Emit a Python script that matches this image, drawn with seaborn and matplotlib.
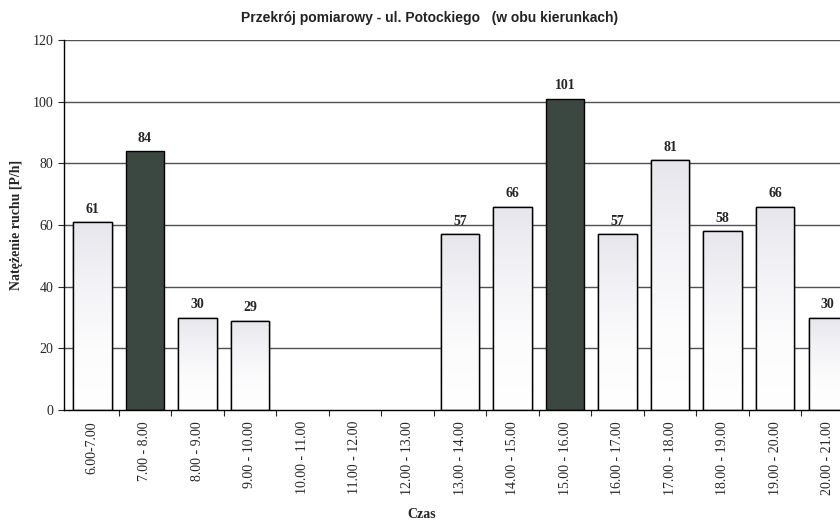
import numpy as np
import pandas as pd
import matplotlib
matplotlib.use("Agg")
import matplotlib.pyplot as plt
import seaborn as sns

# Hourly traffic counts, ul. Potockiego (both directions)
HOURS = [
    "6.00-7.00", "7.00 - 8.00", "8.00 - 9.00", "9.00 - 10.00", "10.00 - 11.00",
    "11.00 - 12.00", "12.00 - 13.00", "13.00 - 14.00", "14.00 - 15.00",
    "15.00 - 16.00", "16.00 - 17.00", "17.00 - 18.00", "18.00 - 19.00",
    "19.00 - 20.00", "20.00 - 21.00",
]
VOLUMES = [61, 84, 30, 29, 0, 0, 0, 57, 66, 101, 57, 81, 58, 66, 30]
PEAK_HOURS = ["7.00 - 8.00", "15.00 - 16.00"]

DARK = "#3b4841"
LIGHT = "#ffffff"

df = pd.DataFrame({"hour": HOURS, "volume": VOLUMES})
df["peak"] = df["hour"].isin(PEAK_HOURS)

sns.set_style("white")
plt.rcParams["font.family"] = ["Liberation Serif", "DejaVu Serif"]

fig = plt.figure(figsize=(8.4, 5.25), dpi=100)
ax = fig.add_axes([64 / 840, 1 - 410 / 525, 1 - 64 / 840 + 0.001, 370 / 525])

# gridlines under bars
for y in range(20, 121, 20):
    ax.axhline(y, color="#505050", lw=1.0, zorder=0)

colors = [DARK if p else LIGHT for p in df["peak"]]
sns.barplot(data=df, x="hour", y="volume", hue="hour", palette=colors,
            legend=False, width=0.73, edgecolor="black", linewidth=1.0,
            saturation=1, ax=ax, zorder=2)

# soft vertical gradient inside the white bars
grad = np.linspace(0, 1, 256).reshape(-1, 1)
cmap = matplotlib.colors.LinearSegmentedColormap.from_list(
    "g", ["#ffffff", "#fcfcfd", "#f3f3f7", "#e6e6ec"])
for bar, peak, v in zip(ax.patches, df["peak"], df["volume"]):
    if v == 0:
        bar.set_visible(False)
        continue
    if peak:
        continue
    x0, w, h = bar.get_x(), bar.get_width(), bar.get_height()
    im = ax.imshow(grad, extent=(x0, x0 + w, 0, h), origin="lower",
                   cmap=cmap, aspect="auto", zorder=2.5)
    im.set_clip_path(bar)
    # redraw edge on top
    ax.add_patch(plt.Rectangle((x0, 0), w, h, fill=False, ec="black",
                               lw=1.0, zorder=3))

for i, v in enumerate(df["volume"]):
    if v > 0:
        ax.text(i, v + 2, str(v), ha="center", va="bottom",
                fontsize=10, fontweight="bold")

ax.set_xlim(-0.54, 14.25)
ax.set_ylim(0, 120)
ax.set_yticks(range(0, 121, 20))
ax.tick_params(axis="y", labelsize=10, length=4, direction="out", left=True,
               width=0.8)
ax.set_xticks(range(len(HOURS)))
ax.set_xticklabels(HOURS, rotation=90, fontsize=10)
ax.tick_params(axis="x", length=0, pad=8)
ax.set_xticks(np.arange(0.5, 14.5, 1), minor=True)
ax.tick_params(axis="x", which="minor", length=4, bottom=True, width=0.8)

for s in ["top", "right"]:
    ax.spines[s].set_visible(False)
for s in ["left", "bottom"]:
    ax.spines[s].set_color("black")
    ax.spines[s].set_linewidth(1.0)

ax.set_xlabel("")
ax.set_ylabel("")
fig.text(17 / 840, 1 - 225 / 525, "Natężenie ruchu [P/h]", rotation=90,
         ha="center", va="center", fontsize=10, fontweight="bold")
fig.text(422 / 840, 1 - 515 / 525, "Czas", ha="center", va="center",
         fontsize=10, fontweight="bold")
fig.text(430 / 840, 1 - 18 / 525,
         "Przekrój pomiarowy - ul. Potockiego   (w obu kierunkach)",
         ha="center", va="center", fontsize=10, fontweight="bold",
         family=["Liberation Sans", "DejaVu Sans"], color="#222222")

fig.savefig("out.png", dpi=100)
